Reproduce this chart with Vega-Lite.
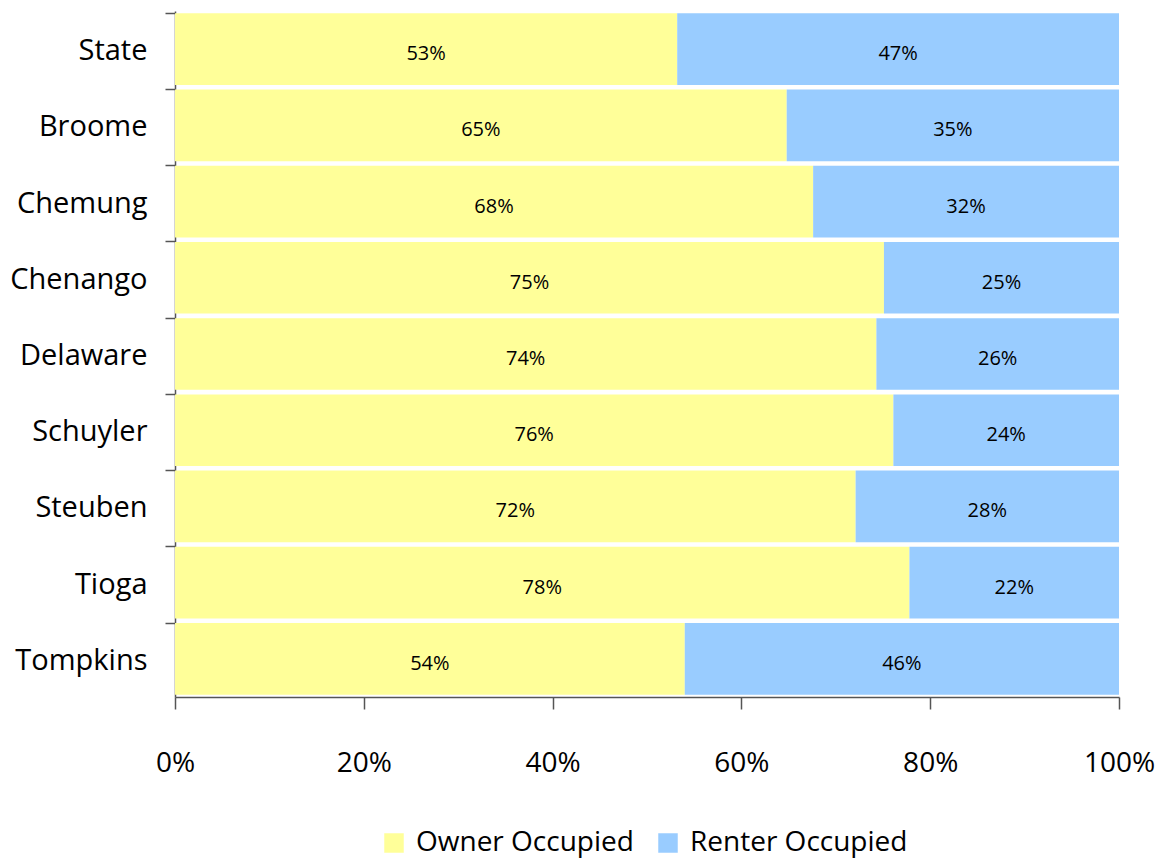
{
  "$schema": "https://vega.github.io/schema/vega-lite/v6.json",
  "width": 944,
  "height": 686,
  "autosize": {"type": "none"},
  "padding": {"left": 175, "top": 11, "right": 43, "bottom": 162},
  "background": "white",
  "config": {"view": {"stroke": null}, "font": "Open Sans"},
  "data": {
    "values": [
      {"county": "State", "type": "Owner Occupied", "value": 0.532},
      {"county": "State", "type": "Renter Occupied", "value": 0.468},
      {"county": "Broome", "type": "Owner Occupied", "value": 0.648},
      {"county": "Broome", "type": "Renter Occupied", "value": 0.352},
      {"county": "Chemung", "type": "Owner Occupied", "value": 0.676},
      {"county": "Chemung", "type": "Renter Occupied", "value": 0.324},
      {"county": "Chenango", "type": "Owner Occupied", "value": 0.751},
      {"county": "Chenango", "type": "Renter Occupied", "value": 0.249},
      {"county": "Delaware", "type": "Owner Occupied", "value": 0.743},
      {"county": "Delaware", "type": "Renter Occupied", "value": 0.257},
      {"county": "Schuyler", "type": "Owner Occupied", "value": 0.761},
      {"county": "Schuyler", "type": "Renter Occupied", "value": 0.239},
      {"county": "Steuben", "type": "Owner Occupied", "value": 0.721},
      {"county": "Steuben", "type": "Renter Occupied", "value": 0.279},
      {"county": "Tioga", "type": "Owner Occupied", "value": 0.778},
      {"county": "Tioga", "type": "Renter Occupied", "value": 0.222},
      {"county": "Tompkins", "type": "Owner Occupied", "value": 0.540},
      {"county": "Tompkins", "type": "Renter Occupied", "value": 0.460}
    ]
  },
  "encoding": {
    "y": {
      "field": "county",
      "type": "nominal",
      "sort": ["State", "Broome", "Chemung", "Chenango", "Delaware", "Schuyler", "Steuben", "Tioga", "Tompkins"],
      "title": null,
      "scale": {"paddingInner": 0.06, "paddingOuter": 0.03},
      "axis": {
        "labelFont": "Open Sans",
        "labelFontSize": 29,
        "labelColor": "black",
        "labelPadding": 18,
        "labelOffset": 2,
        "tickSize": 10,
        "bandPosition": 0,
        "domainColor": "#555555",
        "tickColor": "#555555",
        "domainWidth": 1.5,
        "tickWidth": 1.5
      }
    },
    "x": {
      "field": "value",
      "type": "quantitative",
      "stack": "normalize",
      "title": null,
      "scale": {"domain": [0, 1], "nice": false},
      "axis": {
        "values": [0, 0.2, 0.4, 0.6, 0.8, 1],
        "format": ".0%",
        "grid": false,
        "labelFont": "Open Sans",
        "labelFontSize": 28,
        "labelColor": "black",
        "labelPadding": 40,
        "tickSize": 12,
        "domainColor": "#555555",
        "tickColor": "#555555",
        "domainWidth": 1.5,
        "tickWidth": 1.5,
        "labelFlush": false
      }
    },
    "order": {"field": "type", "sort": "ascending"}
  },
  "layer": [
    {
      "mark": {"type": "bar"},
      "encoding": {
        "color": {
          "field": "type",
          "type": "nominal",
          "scale": {"domain": ["Owner Occupied", "Renter Occupied"], "range": ["#FFFF99", "#99CCFF"]},
          "legend": {
            "title": null,
            "orient": "none",
            "direction": "horizontal",
            "legendX": 205,
            "legendY": 818,
            "symbolType": "square",
            "symbolSize": 380,
            "symbolStrokeWidth": 0,
            "symbolOpacity": 1,
            "labelFont": "Open Sans",
            "labelFontSize": 28,
            "labelColor": "black",
            "labelOffset": 8,
            "columnPadding": 20,
            "labelLimit": 400
          }
        }
      }
    },
    {
      "mark": {"type": "text", "fontSize": 20, "color": "black", "dy": 5, "font": "Open Sans"},
      "encoding": {
        "x": {"field": "value", "type": "quantitative", "stack": "normalize", "bandPosition": 0.5},
        "detail": {"field": "type"},
        "text": {"field": "value", "type": "quantitative", "format": ".0%"}
      }
    }
  ]
}
